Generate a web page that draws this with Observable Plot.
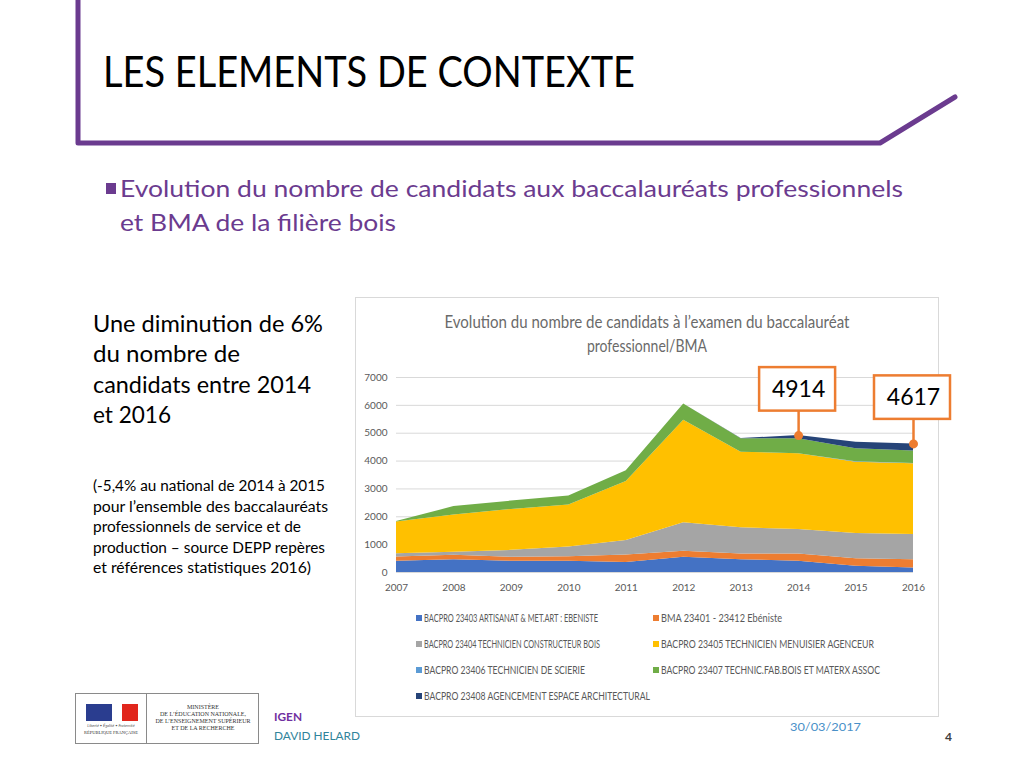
<!DOCTYPE html>
<html><head><meta charset="utf-8">
<script src="https://cdn.jsdelivr.net/npm/d3@7"></script>
<script src="https://cdn.jsdelivr.net/npm/@observablehq/plot@0.6"></script>
<style>
html,body{margin:0;padding:0;background:#fff;}
#slide{position:relative;width:1024px;height:768px;overflow:hidden;font-family:Lato,"Open Sans",sans-serif;}
.abs{position:absolute;white-space:nowrap;}
.fit{display:inline-block;transform-origin:left center;}
#frame{position:absolute;left:355px;top:297px;width:582px;height:418px;border:1px solid #d9d9d9;}
#chart{position:absolute;left:355px;top:355px;}
.leg{position:absolute;font-size:12px;color:#595959;white-space:nowrap;}
.leg i{position:absolute;left:-8px;top:3px;width:6px;height:6px;}
</style></head>
<body><div id="slide">
<svg class="abs" style="left:0;top:0" width="1024" height="160"><polyline points="78,0 78,143 880,143 955,97" fill="none" stroke="#6B3B8F" stroke-width="5" stroke-linejoin="round" stroke-linecap="round"/></svg>
<div class="abs" style="left:103px;top:46px;font-size:43px;line-height:50px;color:#000"><span class="fit" data-w="532">LES ELEMENTS DE CONTEXTE</span></div>
<div class="abs" style="left:106px;top:183px;width:10px;height:11px;background:#6B3B8F"></div>
<div class="abs" style="left:120px;top:171px;font-size:24px;line-height:34px;color:#6B3B8F"><span class="fit" data-w="783">Evolution du nombre de candidats aux baccalauréats professionnels</span></div>
<div class="abs" style="left:120px;top:205px;font-size:24px;line-height:34px;color:#6B3B8F"><span class="fit" data-w="276">et BMA de la filière bois</span></div>

<div class="abs" style="left:93px;top:308px;font-size:23px;line-height:30.3px;color:#000">
<span class="fit" data-w="230">Une diminution de 6%</span><br><span class="fit" data-w="147">du nombre de</span><br><span class="fit" data-w="218">candidats entre 2014</span><br><span class="fit" data-w="78">et 2016</span></div>
<div class="abs" style="left:93px;top:476px;font-size:14.5px;line-height:20.6px;color:#000">
<span class="fit" data-w="232">(-5,4% au national de 2014 à 2015</span><br><span class="fit" data-w="235">pour l’ensemble des baccalauréats</span><br><span class="fit" data-w="208">professionnels de service et de</span><br><span class="fit" data-w="232">production – source DEPP repères</span><br><span class="fit" data-w="218">et références statistiques 2016)</span></div>

<div id="frame"></div>
<div class="abs" style="left:355px;width:584px;top:310px;text-align:center;font-size:17px;line-height:24px;color:#6a6a6a">
<span class="fit c" data-w="405">Evolution du nombre de candidats à l’examen du baccalauréat</span><br><span class="fit c" data-w="120">professionnel/BMA</span></div>
<div id="chart"></div>
<div id="legend"></div>

<div class="abs" style="left:75px;top:693px;width:182px;height:49px;border:1px solid #8a8a8a;background:#fff">
 <div class="abs" style="left:70px;top:0;width:1px;height:49px;background:#8a8a8a"></div>
 <div class="abs" style="left:10px;top:10px;width:26px;height:17px;background:#2a3d8f"></div>
 <div class="abs" style="left:46px;top:10px;width:16px;height:17px;background:#e1261c"></div>
 <div class="abs" style="left:4px;top:29px;width:62px;text-align:center;font-size:4px;color:#555;font-style:italic">Liberté • Égalité • Fraternité</div>
 <div class="abs" style="left:4px;top:36px;width:62px;text-align:center;font-size:4.5px;color:#333;font-family:'Liberation Serif',serif">RÉPUBLIQUE FRANÇAISE</div>
 <div class="abs" style="left:72px;top:10px;width:110px;text-align:center;font-size:6px;line-height:7px;color:#333;font-family:'Liberation Serif',serif">MINISTÈRE<br>DE L’ÉDUCATION NATIONALE,<br>DE L’ENSEIGNEMENT SUPÉRIEUR<br>ET DE LA RECHERCHE</div>
</div>
<div class="abs" style="left:274px;top:709px;font-size:12px;line-height:16px;color:#7030A0;font-weight:bold"><span class="fit" data-w="28">IGEN</span></div>
<div class="abs" style="left:274px;top:728px;font-size:12px;line-height:16px;color:#31849B"><span class="fit" data-w="86">DAVID HELARD</span></div>
<div class="abs" style="left:790px;top:719px;font-size:12px;line-height:16px;color:#4A90C8"><span class="fit" data-w="71">30/03/2017</span></div>
<div class="abs" style="left:945px;top:729px;font-size:12px;line-height:16px;color:#404040;font-weight:bold">4</div>
</div>
<script>
const years = [2007, 2008, 2009, 2010, 2011, 2012, 2013, 2014, 2015, 2016];
const seriesNames = [
  "BACPRO 23403 ARTISANAT & MET.ART : EBENISTE",
  "BMA 23401 - 23412 Ebéniste",
  "BACPRO 23404 TECHNICIEN CONSTRUCTEUR BOIS",
  "BACPRO 23405 TECHNICIEN MENUISIER AGENCEUR",
  "BACPRO 23406 TECHNICIEN DE SCIERIE",
  "BACPRO 23407 TECHNIC.FAB.BOIS ET MATERX ASSOC",
  "BACPRO 23408 AGENCEMENT ESPACE ARCHITECTURAL"
];
const seriesColors = ["#4472C4", "#ED7D31", "#A5A5A5", "#FFC000", "#5B9BD5", "#70AD47", "#264478"];
const v23403 = [400, 460, 400, 400, 360, 545, 460, 400, 220, 160];
const vBMA   = [155, 155, 145, 165, 265, 215, 205, 265, 275, 300];
const v23404 = [120, 110, 250, 350, 520, 1025, 940, 880, 905, 905];
const v23405 = [1135, 1340, 1470, 1510, 2125, 3680, 2715, 2715, 2560, 2535];
const v23406 = [0, 0, 0, 0, 0, 0, 0, 0, 20, 15];
const v23407 = [20, 300, 300, 325, 385, 580, 480, 540, 460, 445];
const v23408 = [0, 0, 0, 0, 0, 0, 10, 114, 240, 257];
const yTicks = [0, 1000, 2000, 3000, 4000, 5000, 6000, 7000];
const calloutYears = [2014, 2016];

const allValues = [v23403, vBMA, v23404, v23405, v23406, v23407, v23408];
const data = [];
seriesNames.forEach((s, k) => years.forEach((yr, i) => data.push({year: yr, series: s, value: allValues[k][i]})));
const callouts = calloutYears.map(yr => {
  const i = years.indexOf(yr);
  return {year: yr, total: d3.sum(allValues, a => a[i])};
});

const chart = Plot.plot({
  width: 583, height: 245,
  marginLeft: 41, marginRight: 25, marginTop: 22, marginBottom: 28,
  style: {fontFamily: "Lato, sans-serif", fontSize: "10px", color: "#595959", overflow: "visible", background: "transparent"},
  x: {domain: [2007, 2016]},
  y: {domain: [0, 7000]},
  color: {domain: seriesNames, range: seriesColors},
  marks: [
    Plot.gridY(yTicks, {stroke: "#d9d9d9", strokeOpacity: 1}),
    Plot.areaY(data, {x: "year", y: "value", fill: "series", order: seriesNames}),
    Plot.ruleY([0], {stroke: "#d9d9d9"}),
    Plot.axisY({ticks: yTicks, tickSize: 0, tickPadding: 9, tickFormat: d => String(d), label: null}),
    Plot.axisX({ticks: years, tickSize: 0, tickPadding: 11, tickFormat: d => String(d), label: null}),
    Plot.ruleX(callouts, {x: "year", y1: "total", y2: "total", insetTop: -25, stroke: "#ED7D31", strokeWidth: 2.5}),
    Plot.dot(callouts, {x: "year", y: "total", r: 4.5, fill: "#ED7D31", stroke: "none"}),
    Plot.rect(callouts, {x1: "year", x2: "year", y1: "total", y2: "total", insetLeft: -39, insetRight: -37, insetTop: -68, insetBottom: 24.5, fill: "white", stroke: "#ED7D31", strokeWidth: 2.5}),
    Plot.text(callouts, {x: "year", y: "total", text: d => String(d.total), dy: -46, fontSize: 23, fill: "black", fontFamily: "Lato, sans-serif"})
  ]
});
document.getElementById("chart").appendChild(chart);

// legend (HTML, colours from the same scale)
const legPos = [[424,612],[661,612],[424,638],[661,638],[424,664],[661,664],[424,690]];
const legW = [174,121,176,213,161,219,226];
const legend = document.getElementById("legend");
seriesNames.forEach((s, k) => {
  const d = document.createElement("div");
  d.className = "leg";
  d.style.left = legPos[k][0] + "px"; d.style.top = legPos[k][1] + "px";
  d.style.lineHeight = "12px";
  d.innerHTML = `<i style="background:${chart.scale("color").apply(s)}"></i><span class="fit" data-w="${legW[k]}"></span>`;
  d.querySelector("span").textContent = s;
  legend.appendChild(d);
});

document.querySelectorAll(".fit").forEach(el => {
  const w = el.getBoundingClientRect().width;
  const t = +el.dataset.w;
  if (w > 0 && t > 0) {
    el.style.transform = `scaleX(${t / w})`;
    if (el.classList.contains("c")) el.style.transformOrigin = "center";
  }
});
</script>
</body></html>
